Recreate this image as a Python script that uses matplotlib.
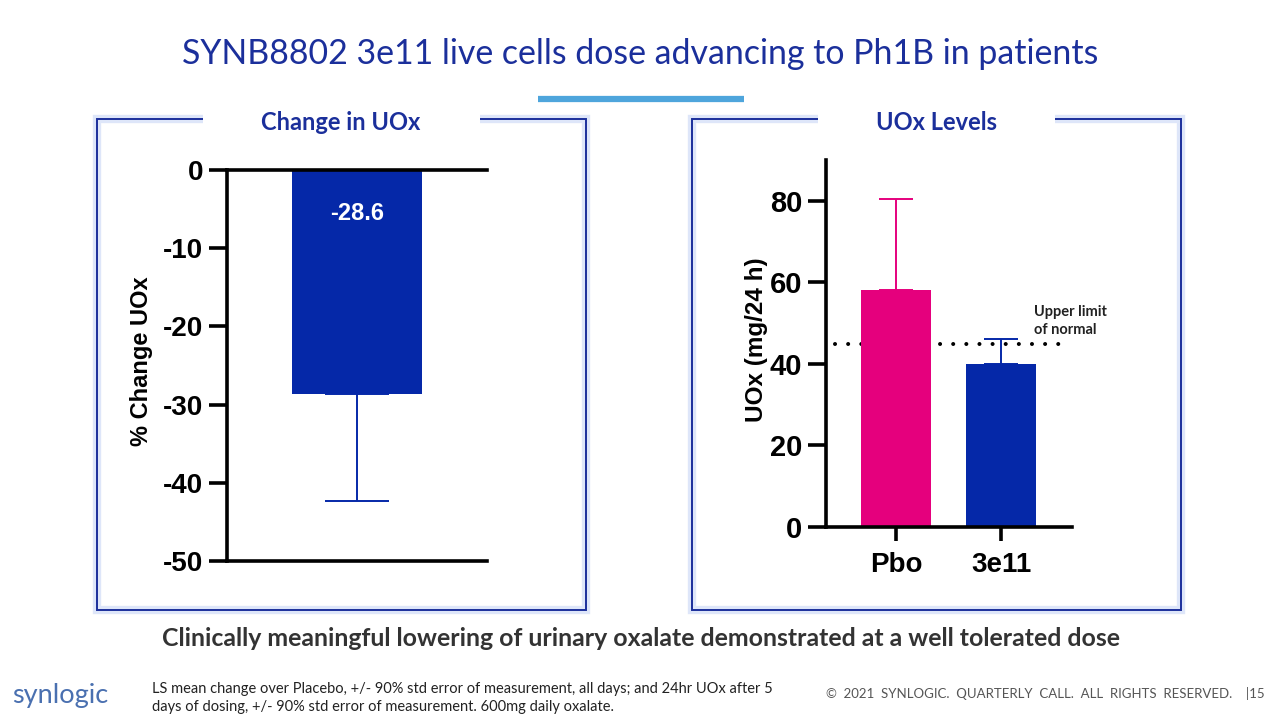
import numpy as np
import matplotlib.pyplot as plt
from matplotlib.patches import Rectangle

# ------------------------------------------------------------
# data
# ------------------------------------------------------------
change_labels = ['3e11']
change_values = [-28.6]
change_err = [13.7]          # down to about -42.3

level_labels = ['Pbo', '3e11']
level_values = [58.0, 40.0]
level_err = [22.4, 6.1]      # caps at ~80.4 and ~46.1
upper_limit = 45.0

W, H = 1280, 720
NAVY = '#1b2f9b'
BLUE = '#0528a8'
PINK = '#e5007d'


def px(x0, y0, x1, y1):
    # pixel box (top-left origin) -> figure fraction rect
    return [x0 / W, 1 - y1 / H, (x1 - x0) / W, (y1 - y0) / H]


plt.rcParams['font.family'] = ['Liberation Sans', 'DejaVu Sans']
fig = plt.figure(figsize=(12.8, 7.2), dpi=100)

# background layer for boxes and slide text
bg = fig.add_axes([0, 0, 1, 1])
bg.set_xlim(0, W)
bg.set_ylim(H, 0)
bg.axis('off')

for (x0, x1, g0, g1) in [(97, 586, 203, 480), (692, 1181, 818, 1055)]:
    bg.add_patch(Rectangle((x0, 119), x1 - x0, 491, fill=False,
                           ec='#c9d6f5', lw=6, alpha=0.6))
    bg.add_patch(Rectangle((x0, 119), x1 - x0, 491, fill=False,
                           ec=NAVY, lw=1.4))
    bg.add_patch(Rectangle((g0, 108), g1 - g0, 20, fc='white', ec='none'))

bg.text(341, 122, 'Change in UOx', ha='center', va='center', color=NAVY,
        fontsize=17, fontweight='bold', family=['Lato', 'DejaVu Sans'])
bg.text(937, 122, 'UOx Levels', ha='center', va='center', color=NAVY,
        fontsize=17, fontweight='bold', family=['Lato', 'DejaVu Sans'])

bg.text(640, 54, 'SYNB8802 3e11 live cells dose advancing to Ph1B in patients',
        ha='center', va='center', color=NAVY, fontsize=24.4,
        family=['Lato', 'DejaVu Sans'])
bg.plot([538, 744], [99, 99], color='#4ea5dc', lw=4.5, solid_capstyle='butt')

bg.text(641, 639, 'Clinically meaningful lowering of urinary oxalate demonstrated '
        'at a well tolerated dose', ha='center', va='center', color='#333333',
        fontsize=17.9, fontweight='bold', family=['Lato', 'DejaVu Sans'])

bg.text(152, 698, 'LS mean change over Placebo, +/- 90% std error of measurement, '
        'all days; and 24hr UOx after 5\ndays of dosing, +/- 90% std error of '
        'measurement. 600mg daily oxalate.', ha='left', va='center',
        color='#222222', fontsize=10.5, linespacing=1.45,
        family=['Lato', 'DejaVu Sans'])
bg.text(1265, 694, '©  2021  SYNLOGIC.  QUARTERLY  CALL.  ALL  RIGHTS  RESERVED.    |15',
        ha='right', va='center', color='#555555', fontsize=9.5,
        family=['Lato', 'DejaVu Sans'])
bg.text(12, 695, 'synlogic', ha='left', va='center', color='#4a70b0',
        fontsize=19.5, family=['Lato', 'DejaVu Sans'])

# ------------------------------------------------------------
# left: % change
# ------------------------------------------------------------
ax1 = fig.add_axes(px(227, 170, 487, 561))
ax1.bar([0], change_values, width=1.0, color=BLUE, zorder=2)
ax1.errorbar([0], change_values, yerr=[change_err, [0]], fmt='none',
             ecolor=BLUE, elinewidth=1.4, capsize=23, capthick=1.4, zorder=1)
ax1.text(0, -5.5, f'{change_values[0]:.1f}', ha='center', va='center',
         color='white', fontsize=17, fontweight='bold')
ax1.set_xlim(-1, 1)
ax1.set_ylim(-50, 0)
ax1.set_yticks([0, -10, -20, -30, -40, -50])
ax1.set_yticklabels(['0', '-10', '-20', '-30', '-40', '-50'])
ax1.set_xticks([])
for s in ['left', 'top', 'bottom']:
    ax1.spines[s].set_linewidth(2.6)
ax1.spines['right'].set_visible(False)
ax1.tick_params(axis='y', length=13, width=2.6, pad=4, labelsize=20)
for t in ax1.get_yticklabels():
    t.set_fontweight('bold')
ax1.set_ylabel('% Change UOx', fontsize=17, fontweight='bold')
ax1.yaxis.set_label_coords(-0.285, 0.51)

# ------------------------------------------------------------
# right: UOx levels
# ------------------------------------------------------------
ax2 = fig.add_axes(px(826, 160, 1072, 527))
xpos = np.arange(len(level_labels))
ax2.plot([-0.58, 1.6], [upper_limit, upper_limit], ls=(0, (0.01, 3.25)), lw=2.9,
         color='black', dash_capstyle='round', zorder=1)
ax2.bar(xpos, level_values, width=0.667, color=[PINK, BLUE], zorder=2)
for xi, v, e, c in zip(xpos, level_values, level_err, [PINK, BLUE]):
    ax2.errorbar([xi], [v], yerr=[[0], [e]], fmt='none', ecolor=c,
                 elinewidth=1.4, capsize=12, capthick=1.4, zorder=3)
ax2.text(1.31, 50.5, 'Upper limit\nof normal', ha='left', va='center',
         color='#222222', fontsize=10.5, fontweight='bold', linespacing=1.3,
         family=['Lato', 'DejaVu Sans'])
ax2.set_xlim(-0.667, 1.676)
ax2.set_ylim(0, 90)
ax2.set_yticks([0, 20, 40, 60, 80])
ax2.set_xticks(xpos)
ax2.set_xticklabels(level_labels)
for s in ['left', 'bottom']:
    ax2.spines[s].set_linewidth(2.6)
for s in ['right', 'top']:
    ax2.spines[s].set_visible(False)
ax2.tick_params(axis='y', length=13, width=2.6, pad=4, labelsize=21)
ax2.tick_params(axis='x', length=10, width=2.6, pad=8, labelsize=20)
for t in ax2.get_yticklabels() + ax2.get_xticklabels():
    t.set_fontweight('bold')
ax2.set_ylabel('UOx (mg/24 h)', fontsize=17.5, fontweight='bold')
ax2.yaxis.set_label_coords(-0.236, 0.51)

fig.savefig('out.png', dpi=100)
